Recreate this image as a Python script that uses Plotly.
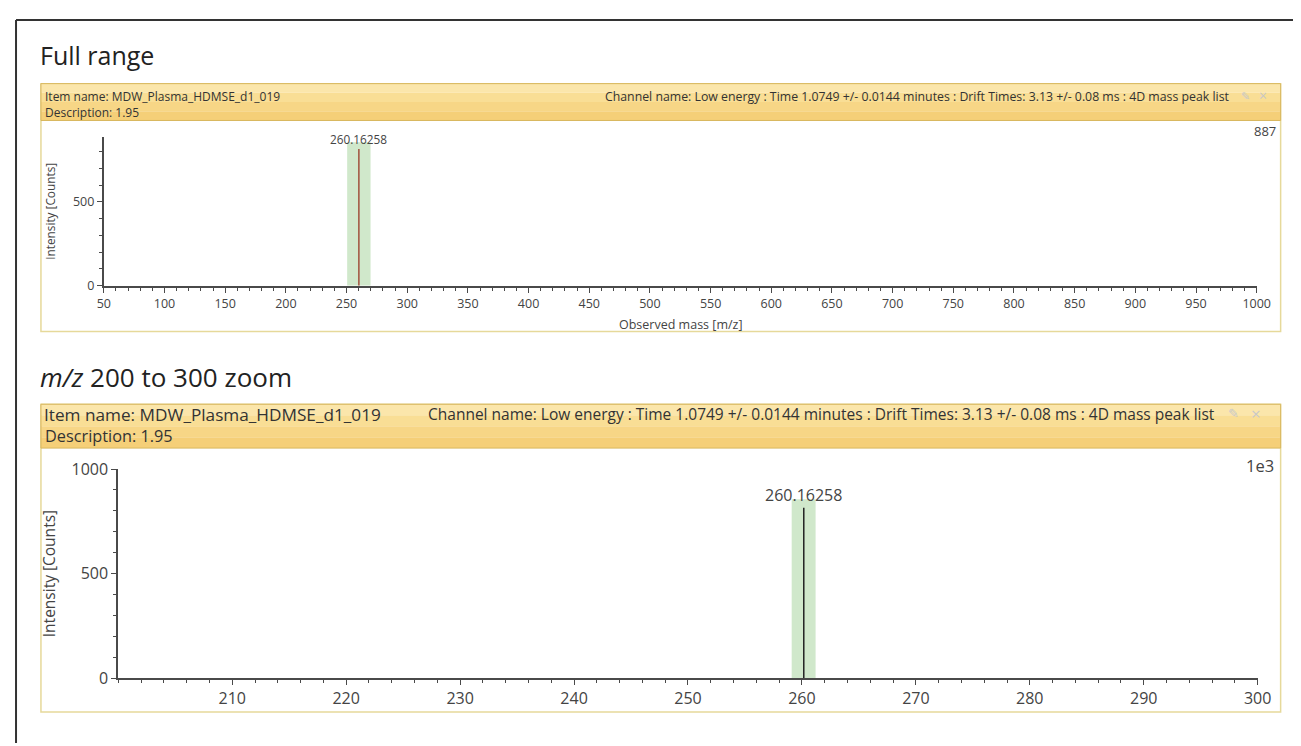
import plotly.graph_objects as go

W, H = 1301, 746
# empirical mapping from intended screen position to figure pixel
SX, AX = 0.9857, 13.0
SY, AY = 0.9746, 17.1

# ---- data ----
peak_mz = [260.16258]
peak_intensity = [815]
peak_labels = ["260.16258"]
full_range = [50, 1000]
full_ymax = 887
full_xticks = [50, 100, 150, 200, 250, 300, 350, 400, 450, 500, 550, 600, 650, 700,
               750, 800, 850, 900, 950, 1000]
full_yticks = [0, 500]
zoom_range = [200, 300]
zoom_ymax = 1000
zoom_xticks = [210, 220, 230, 240, 250, 260, 270, 280, 290, 300]
zoom_yticks = [0, 500, 1000]
band_full = [250.5, 269.8]
band_zoom = [259.1, 261.2]
band_top = 855

header_item = "Item name: MDW_Plasma_HDMSE_d1_019"
header_channel = ("Channel name: Low energy : Time 1.0749 +/- 0.0144 minutes : "
                  "Drift Times: 3.13 +/- 0.08 ms : 4D mass peak list")
header_desc = "Description: 1.95"

FONT = "Open Sans"


def px(s):
    return max(0.0, (s - AX) / SX) / W


def py(s):
    return 1 - max(0.0, (s - AY) / SY) / H


fig = go.Figure()

fig.add_trace(go.Scatter(x=[peak_mz[0], peak_mz[0]], y=[0, peak_intensity[0]],
                         mode="lines", line=dict(color="#a0503c", width=1.5),
                         xaxis="x", yaxis="y", showlegend=False, hoverinfo="skip"))
fig.add_trace(go.Scatter(x=[peak_mz[0], peak_mz[0]], y=[0, peak_intensity[0]],
                         mode="lines", line=dict(color="#222222", width=1.5),
                         xaxis="x2", yaxis="y2", showlegend=False, hoverinfo="skip"))

axis_common = dict(showgrid=False, zeroline=False, showline=True, linecolor="#4a4a4a",
                   linewidth=2, ticks="outside", tickcolor="#4a4a4a", ticklen=5,
                   tickwidth=1.2, fixedrange=True)

shapes = []
# outer frame (top and left edges)
shapes.append(dict(type="line", xref="paper", yref="paper", x0=0.0008, x1=1.0,
                   y0=0.9985, y1=0.9985, line=dict(color="#333333", width=2)))
shapes.append(dict(type="line", xref="paper", yref="paper", x0=0.0008, x1=0.0008,
                   y0=0.9985, y1=0, line=dict(color="#333333", width=2)))

panel_border = "#e6d99a"
header_line = "#d8b75e"
header_grad = ["#fbe6ab", "#f9de95", "#f7d686", "#f5cf78"]

for (top, bot, hbot) in [(82, 331, 119), (404, 713, 448)]:
    shapes.append(dict(type="rect", xref="paper", yref="paper", x0=px(39), x1=px(1281),
                       y0=py(bot), y1=py(top), line=dict(color=panel_border, width=1.5),
                       fillcolor="rgba(255,255,255,0)", layer="below"))
    n = len(header_grad)
    step = (hbot - top) / n
    for i, c in enumerate(header_grad):
        shapes.append(dict(type="rect", xref="paper", yref="paper", x0=px(39), x1=px(1281),
                           y0=py(top + (i + 1) * step), y1=py(top + i * step),
                           line=dict(width=0), fillcolor=c, layer="below"))
    shapes.append(dict(type="rect", xref="paper", yref="paper", x0=px(39), x1=px(1281),
                       y0=py(hbot), y1=py(top), line=dict(color=header_line, width=1),
                       fillcolor="rgba(0,0,0,0)", layer="below"))

shapes.append(dict(type="rect", xref="x", yref="y", x0=band_full[0], x1=band_full[1],
                   y0=0, y1=band_top, fillcolor="rgba(150,205,140,0.45)",
                   line=dict(width=0), layer="below"))
shapes.append(dict(type="rect", xref="x2", yref="y2", x0=band_zoom[0], x1=band_zoom[1],
                   y0=0, y1=band_top, fillcolor="rgba(150,205,140,0.45)",
                   line=dict(width=0), layer="below"))

ann = []


def txt(x, y, s, size, xanchor="left", color="#333333", **kw):
    ann.append(dict(xref="paper", yref="paper", x=px(x), y=py(y), text=s, showarrow=False,
                    xanchor=xanchor, yanchor="middle",
                    font=dict(family=FONT, size=size, color=color), **kw))


txt(36, 53, "Full range", 25, color="#222222")
txt(36, 377, "<i>m/z</i> 200 to 300 zoom", 26, color="#222222")

txt(41, 94.5, header_item, 12)
txt(41, 111, header_desc, 12)
txt(1231, 94.5, header_channel, 12.3, xanchor="right")
txt(1246, 94, "✎", 11, xanchor="center", color="#c8c8c8")
txt(1263, 94, "×", 14, xanchor="center", color="#c8c8c8")

txt(40, 414, header_item, 17.2)
txt(1217, 414, header_channel, 15.5, xanchor="right")
txt(41, 436, header_desc, 16.3)
txt(1234, 413, "✎", 13, xanchor="center", color="#c8c8c8")
txt(1256, 413, "×", 17, xanchor="center", color="#c8c8c8")

txt(1278, 130, str(full_ymax), 13, xanchor="right", color="#444444")
txt(1276, 465, "1e3", 16.5, xanchor="right", color="#444444")

txt(680, 324, "Observed mass [m/z]", 12.5, xanchor="center", color="#444444")

ann.append(dict(xref="x", yref="y", x=peak_mz[0], y=peak_intensity[0], text=peak_labels[0],
                showarrow=False, yanchor="bottom", yshift=0,
                font=dict(family=FONT, size=11.8, color="#444444")))
ann.append(dict(xref="x2", yref="y2", x=peak_mz[0], y=peak_intensity[0], text=peak_labels[0],
                showarrow=False, yanchor="bottom", yshift=0,
                font=dict(family=FONT, size=16, color="#444444")))

fig.update_layout(
    width=W, height=H, margin=dict(l=0, r=0, t=0, b=0),
    paper_bgcolor="white", plot_bgcolor="rgba(0,0,0,0)", showlegend=False,
    xaxis=dict(axis_common, domain=[px(102), px(1257)], range=full_range, anchor="y",
               tickvals=full_xticks, tickfont=dict(family=FONT, size=12.5, color="#444444"),
               minor=dict(dtick=10, tick0=50, ticks="outside", ticklen=3, tickcolor="#4a4a4a")),
    yaxis=dict(axis_common, domain=[py(285), py(135.5)], range=[0, full_ymax], anchor="x",
               tickvals=full_yticks, tickfont=dict(family=FONT, size=12.5, color="#444444"),
               title=dict(text="Intensity [Counts]", standoff=15,
                          font=dict(family=FONT, size=11.8, color="#444444")),
               minor=dict(dtick=100, tick0=0, ticks="outside", ticklen=3, tickcolor="#4a4a4a")),
    xaxis2=dict(axis_common, domain=[px(116.5), px(1258)], range=zoom_range, anchor="y2",
                tickvals=zoom_xticks, tickfont=dict(family=FONT, size=16, color="#444444"),
                minor=dict(dtick=2, tick0=200, ticks="outside", ticklen=3, tickcolor="#4a4a4a")),
    yaxis2=dict(axis_common, domain=[py(679), py(469)], range=[0, zoom_ymax], anchor="x2",
                tickvals=zoom_yticks, tickfont=dict(family=FONT, size=16, color="#444444"),
                title=dict(text="Intensity [Counts]", standoff=12,
                           font=dict(family=FONT, size=15.5, color="#444444")),
                minor=dict(dtick=100, tick0=0, ticks="outside", ticklen=3, tickcolor="#4a4a4a")),
    shapes=shapes, annotations=ann,
)

fig.write_html("out.html")
